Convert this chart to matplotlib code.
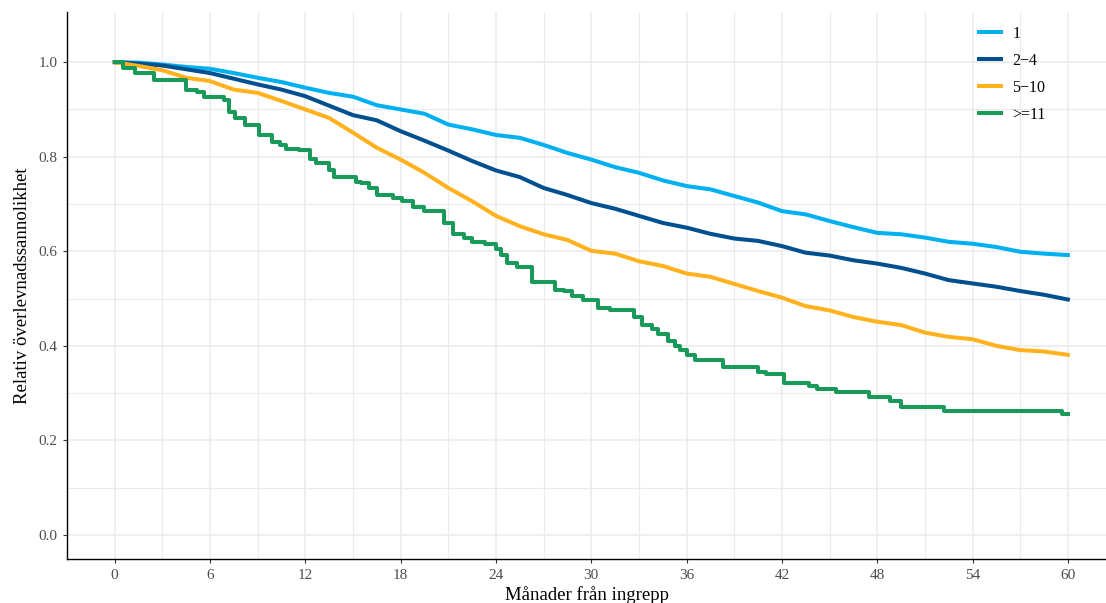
import matplotlib.pyplot as plt
import numpy as np

plt.rcParams['font.family'] = ['Liberation Serif', 'DejaVu Serif']

# relative survival per group, months since surgery
months_smooth = [0, 1.5, 3, 4.5, 6, 7.5, 9, 10.5, 12, 13.5, 15, 16.5, 18, 19.5, 21,
                 22.5, 24, 25.5, 27, 28.5, 30, 31.5, 33, 34.5, 36, 37.5, 39, 40.5,
                 42, 43.5, 45, 46.5, 48, 49.5, 51, 52.5, 54, 55.5, 57, 58.5, 60]

surv_1 = [1.0, 0.999, 0.995, 0.990, 0.986, 0.977, 0.967, 0.958, 0.946, 0.935, 0.927,
          0.909, 0.900, 0.891, 0.868, 0.858, 0.846, 0.840, 0.825, 0.808, 0.794,
          0.778, 0.766, 0.750, 0.738, 0.731, 0.717, 0.703, 0.685, 0.678, 0.664,
          0.651, 0.639, 0.636, 0.629, 0.620, 0.616, 0.609, 0.599, 0.595, 0.592]

surv_2_4 = [1.0, 0.997, 0.993, 0.985, 0.977, 0.965, 0.953, 0.942, 0.928, 0.908, 0.888,
            0.877, 0.854, 0.834, 0.813, 0.791, 0.771, 0.757, 0.734, 0.719, 0.702,
            0.690, 0.675, 0.660, 0.650, 0.637, 0.627, 0.622, 0.611, 0.597, 0.591,
            0.581, 0.574, 0.565, 0.553, 0.539, 0.532, 0.525, 0.516, 0.508, 0.498]

surv_5_10 = [1.0, 0.992, 0.983, 0.967, 0.960, 0.942, 0.935, 0.918, 0.900, 0.882, 0.851,
             0.819, 0.794, 0.766, 0.734, 0.706, 0.675, 0.653, 0.636, 0.624, 0.601,
             0.595, 0.579, 0.569, 0.553, 0.546, 0.531, 0.516, 0.502, 0.484, 0.475,
             0.461, 0.451, 0.444, 0.428, 0.419, 0.414, 0.400, 0.391, 0.388, 0.381]

months_11 = [0, 0.5, 1.3, 2.5, 4.5, 5.2, 5.6, 6.9, 7.2, 7.6, 8.2, 9.1, 9.9, 10.4, 10.8,
             11.6, 12.3, 12.7, 13.5, 13.8, 15.2, 15.5, 16.0, 16.5, 17.5, 18.1, 18.8,
             19.5, 20.7, 21.3, 22.0, 22.5, 23.3, 24.0, 24.3, 24.7, 25.3, 26.3, 27.7,
             28.3, 28.8, 29.5, 30.4, 31.2, 32.7, 33.2, 33.8, 34.2, 34.8, 35.3, 35.6,
             36.0, 36.5, 38.3, 40.5, 41.0, 42.1, 43.7, 44.2, 45.4, 47.5, 48.8, 49.5,
             52.2, 59.6, 60.0]
surv_11 = [1.0, 0.987, 0.977, 0.962, 0.941, 0.937, 0.927, 0.921, 0.895, 0.881, 0.867,
           0.846, 0.831, 0.825, 0.817, 0.814, 0.796, 0.786, 0.772, 0.758, 0.747,
           0.745, 0.734, 0.719, 0.712, 0.706, 0.694, 0.686, 0.660, 0.636, 0.629,
           0.620, 0.616, 0.604, 0.593, 0.576, 0.567, 0.534, 0.519, 0.516, 0.505,
           0.498, 0.480, 0.475, 0.460, 0.445, 0.436, 0.425, 0.410, 0.400, 0.391,
           0.381, 0.370, 0.356, 0.345, 0.340, 0.321, 0.315, 0.308, 0.302, 0.291,
           0.284, 0.270, 0.263, 0.256, 0.256]

labels = ['1', '2\u22124', '5\u221210', '>=11']
colors = ['#00B0F0', '#00508F', '#FFB21E', '#1A9A5A']

fig = plt.figure(figsize=(11.06, 6.03), dpi=100)
ax = fig.add_axes([0.0606, 0.073, 0.9394, 0.907])

lw = 2.9
ax.plot(months_smooth, surv_1, color=colors[0], lw=lw, label=labels[0])
ax.plot(months_smooth, surv_2_4, color=colors[1], lw=lw, label=labels[1])
ax.plot(months_smooth, surv_5_10, color=colors[2], lw=lw, label=labels[2])
ax.plot(months_11, surv_11, color=colors[3], lw=lw, drawstyle='steps-post', label=labels[3])

ax.set_xlim(-3, 62.4)
ax.set_ylim(-0.0508, 1.106)
ax.set_xticks(np.arange(0, 61, 6))
ax.set_xticks(np.arange(3, 61, 6), minor=True)
ax.set_yticks(np.arange(0, 1.01, 0.2))
ax.set_yticks(np.arange(0.1, 1.0, 0.2), minor=True)
ax.set_yticklabels(['0.0', '0.2', '0.4', '0.6', '0.8', '1.0'])

ax.grid(which='major', color='#EBEBEB', lw=1.1)
ax.grid(which='minor', color='#EBEBEB', lw=0.8)
ax.set_axisbelow(True)
ax.tick_params(which='minor', length=0)
ax.tick_params(which='major', length=3, width=0.8, color='#333333',
               labelsize=11, labelcolor='#4D4D4D', pad=4)

for side in ['top', 'right']:
    ax.spines[side].set_visible(False)
for side in ['left', 'bottom']:
    ax.spines[side].set_linewidth(1.0)
    ax.spines[side].set_color('black')

ax.set_xlabel('Månader från ingrepp', fontsize=13.5, labelpad=3)
ax.set_ylabel('Relativ överlevnadssannolikhet', fontsize=13.5, labelpad=5)

ax.legend(loc='upper left', bbox_to_anchor=(0.885, 0.957), bbox_transform=fig.transFigure,
          frameon=False, fontsize=11.5, handlelength=1.4, handletextpad=0.7,
          labelspacing=0.69, borderpad=0, borderaxespad=0)

fig.savefig('out.png', dpi=100)
